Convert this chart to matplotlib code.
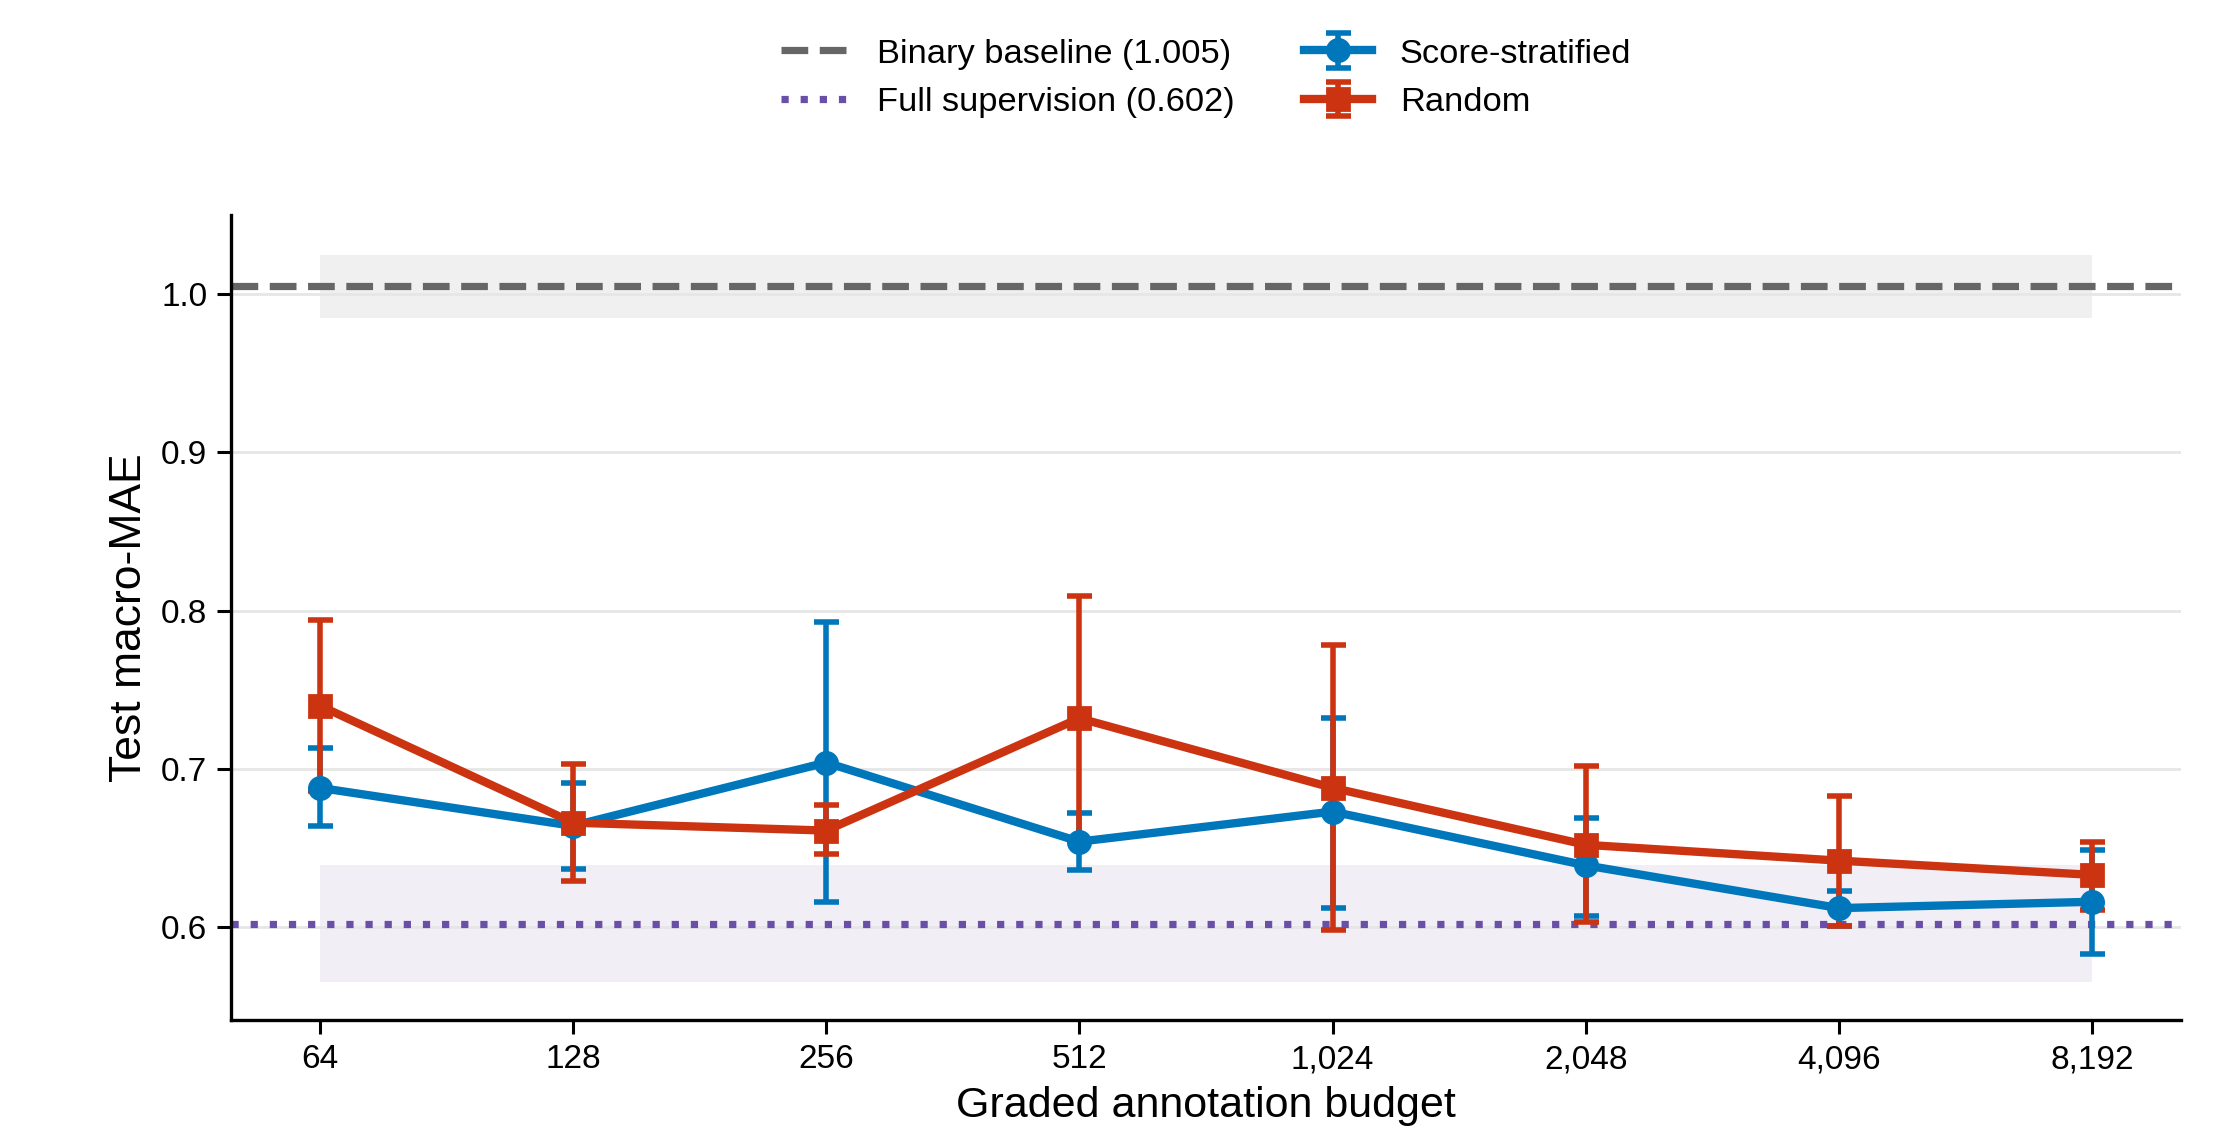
import matplotlib.pyplot as plt
import numpy as np

# Data
budgets = [64, 128, 256, 512, 1024, 2048, 4096, 8192]

strat_mean = [0.688, 0.664, 0.704, 0.654, 0.673, 0.639, 0.612, 0.616]
strat_lo = [0.664, 0.637, 0.616, 0.636, 0.612, 0.607, 0.601, 0.583]
strat_hi = [0.713, 0.691, 0.793, 0.672, 0.732, 0.669, 0.623, 0.649]

rand_mean = [0.740, 0.666, 0.661, 0.732, 0.688, 0.652, 0.642, 0.633]
rand_lo = [0.686, 0.629, 0.646, 0.655, 0.598, 0.603, 0.601, 0.611]
rand_hi = [0.794, 0.703, 0.677, 0.809, 0.778, 0.702, 0.683, 0.654]

binary_baseline = 1.005
binary_band = [0.985, 1.025]
full_sup = 0.602
full_band = [0.565, 0.639]

blue = '#0077BB'
red = '#CC3311'
purple = '#6A4FA8'
grey = '#666666'

plt.rcParams['font.family'] = ['Liberation Sans', 'DejaVu Sans']

fig = plt.figure(figsize=(11.105, 5.72), dpi=200)
ax = fig.add_axes([0.104, 0.108, 0.878, 0.704])

# Shaded bands
ax.fill_between([budgets[0], budgets[-1]], binary_band[0], binary_band[1],
                color='#f0f0f0', linewidth=0, zorder=0)
ax.fill_between([budgets[0], budgets[-1]], full_band[0], full_band[1],
                color='#f1eef6', linewidth=0, zorder=0)

# Reference lines
ax.axhline(binary_baseline, color=grey, linestyle='--', linewidth=2.6,
           label='Binary baseline (%.3f)' % binary_baseline, zorder=1)
ax.axhline(full_sup, color=purple, linestyle=':', linewidth=2.6,
           label='Full supervision (%.3f)' % full_sup, zorder=1)


# Series
def draw_series(mean, lo, hi, color, marker, label):
    mean = np.array(mean)
    yerr = [mean - np.array(lo), np.array(hi) - mean]
    ax.errorbar(budgets, mean, yerr=yerr, color=color, marker=marker,
                markersize=8, linewidth=3.0, elinewidth=2.0,
                capsize=4.5, capthick=2.0, label=label)


draw_series(strat_mean, strat_lo, strat_hi, blue, 'o', 'Score-stratified')
draw_series(rand_mean, rand_lo, rand_hi, red, 's', 'Random')

# Axes
ax.set_xscale('log', base=2)
ax.set_xticks(budgets)
ax.set_xticklabels(['{:,}'.format(b) for b in budgets])
ax.minorticks_off()
ax.set_xlim(64 / 2 ** 0.35, 8192 * 2 ** 0.35)
ax.set_ylim(0.541, 1.05)
ax.set_yticks([0.6, 0.7, 0.8, 0.9, 1.0])

ax.grid(True, axis='y', color='#e6e6e6', linewidth=1.0, zorder=0)
ax.set_axisbelow(True)
for s in ['top', 'right']:
    ax.spines[s].set_visible(False)
for s in ['left', 'bottom']:
    ax.spines[s].set_linewidth(1.2)
ax.tick_params(axis='both', labelsize=12, width=1.1, length=5)

ax.set_xlabel('Graded annotation budget', fontsize=15.5)
ax.set_ylabel('Test macro-MAE', fontsize=16)

ax.legend(loc='center', bbox_to_anchor=(0.5, 1.17), ncol=2,
          frameon=False, fontsize=12.4, handlelength=2.0, columnspacing=2.0)

plt.savefig('out.png', dpi=200)
